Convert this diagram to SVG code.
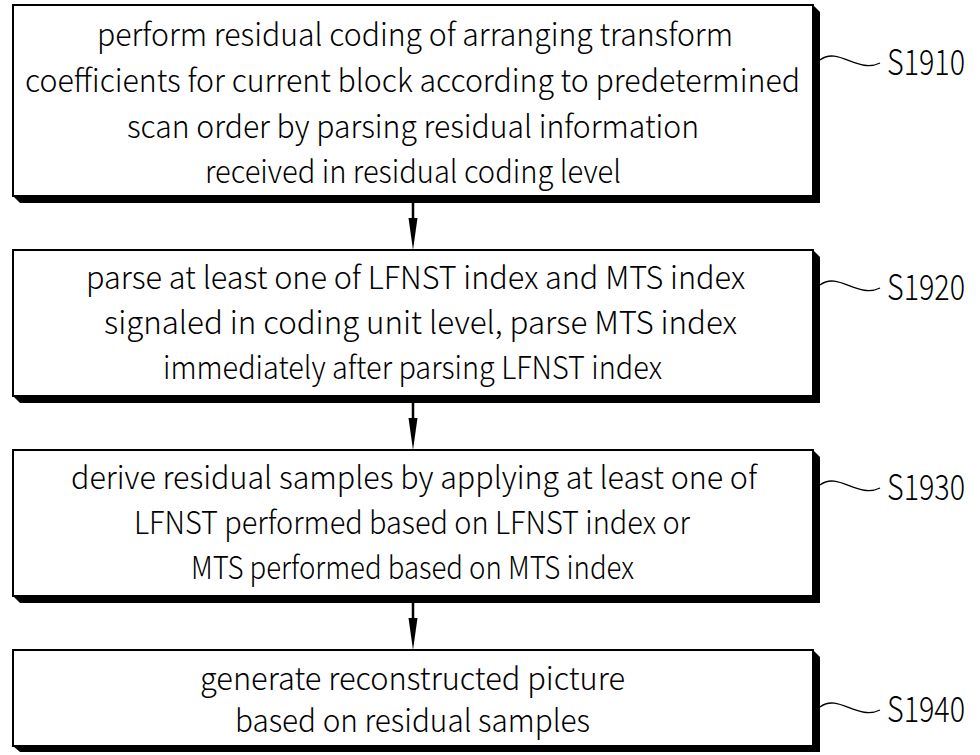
<svg xmlns="http://www.w3.org/2000/svg" width="980" height="755" viewBox="0 0 980 755">
<style>
.box{fill:#fff;stroke:#000;stroke-width:2}
.sh{fill:#000}
.t{font-family:"Noto Sans CJK KR","Noto Sans",sans-serif;font-size:31px;font-weight:300;fill:#000}
.lbl{font-family:"Noto Sans CJK KR","Noto Sans",sans-serif;font-size:35px;font-weight:300;fill:#000;text-anchor:end}
.lead{fill:none;stroke:#000;stroke-width:1.3}
.conn{stroke:#000;stroke-width:2.5}
</style>
<rect width="980" height="755" fill="#fff"/>
<g id="connectors">
<line class="conn" x1="413" y1="203" x2="413" y2="222"/>
<polygon points="408.5,218 417.5,218 413,250"/>
<line class="conn" x1="413" y1="403" x2="413" y2="422"/>
<polygon points="408.5,418 417.5,418 413,450"/>
<line class="conn" x1="413" y1="603" x2="413" y2="622"/>
<polygon points="408.5,618 417.5,618 413,650"/>
</g>
<g id="S1910">
<polygon class="sh" points="813,5 820,12 820,203 20,203 13,196"/>
<rect class="box" x="13" y="5" width="800" height="191"/>
<text class="t" x="97" y="46" textLength="636" lengthAdjust="spacingAndGlyphs">perform residual coding of arranging transform</text>
<text class="t" x="25" y="92" textLength="775" lengthAdjust="spacingAndGlyphs">coefficients for current block according to predetermined</text>
<text class="t" x="127" y="138" textLength="572" lengthAdjust="spacingAndGlyphs">scan order by parsing residual information</text>
<text class="t" x="205" y="183" textLength="416" lengthAdjust="spacingAndGlyphs">received in residual coding level</text>
<path class="lead" d="M820,60 C838,46 858,74 880,63"/>
<text class="lbl" x="965" y="75" textLength="78" lengthAdjust="spacingAndGlyphs">S1910</text>
</g>
<g id="S1920">
<polygon class="sh" points="813,250 820,257 820,403 20,403 13,396"/>
<rect class="box" x="13" y="250" width="800" height="146"/>
<text class="t" x="86" y="289" textLength="659" lengthAdjust="spacingAndGlyphs">parse at least one of LFNST index and MTS index</text>
<text class="t" x="104" y="334" textLength="633" lengthAdjust="spacingAndGlyphs">signaled in coding unit level, parse MTS index</text>
<text class="t" x="163" y="379" textLength="499" lengthAdjust="spacingAndGlyphs">immediately after parsing LFNST index</text>
<path class="lead" d="M820,285 C838,271 858,299 880,288"/>
<text class="lbl" x="965" y="300" textLength="78" lengthAdjust="spacingAndGlyphs">S1920</text>
</g>
<g id="S1930">
<polygon class="sh" points="813,450 820,457 820,603 20,603 13,596"/>
<rect class="box" x="13" y="450" width="800" height="146"/>
<text class="t" x="71" y="489" textLength="686" lengthAdjust="spacingAndGlyphs">derive residual samples by applying at least one of</text>
<text class="t" x="134" y="534" textLength="556" lengthAdjust="spacingAndGlyphs">LFNST performed based on LFNST index or</text>
<text class="t" x="191" y="579" textLength="443" lengthAdjust="spacingAndGlyphs">MTS performed based on MTS index</text>
<path class="lead" d="M820,485 C838,471 858,499 880,488"/>
<text class="lbl" x="965" y="500" textLength="78" lengthAdjust="spacingAndGlyphs">S1930</text>
</g>
<g id="S1940">
<polygon class="sh" points="813,650 820,657 820,752 20,752 13,746"/>
<rect class="box" x="13" y="650" width="800" height="96"/>
<text class="t" x="200" y="690" textLength="425" lengthAdjust="spacingAndGlyphs">generate reconstructed picture</text>
<text class="t" x="235" y="732" textLength="355" lengthAdjust="spacingAndGlyphs">based on residual samples</text>
<path class="lead" d="M820,707 C838,693 858,721 880,710"/>
<text class="lbl" x="965" y="722" textLength="78" lengthAdjust="spacingAndGlyphs">S1940</text>
</g>
</svg>
